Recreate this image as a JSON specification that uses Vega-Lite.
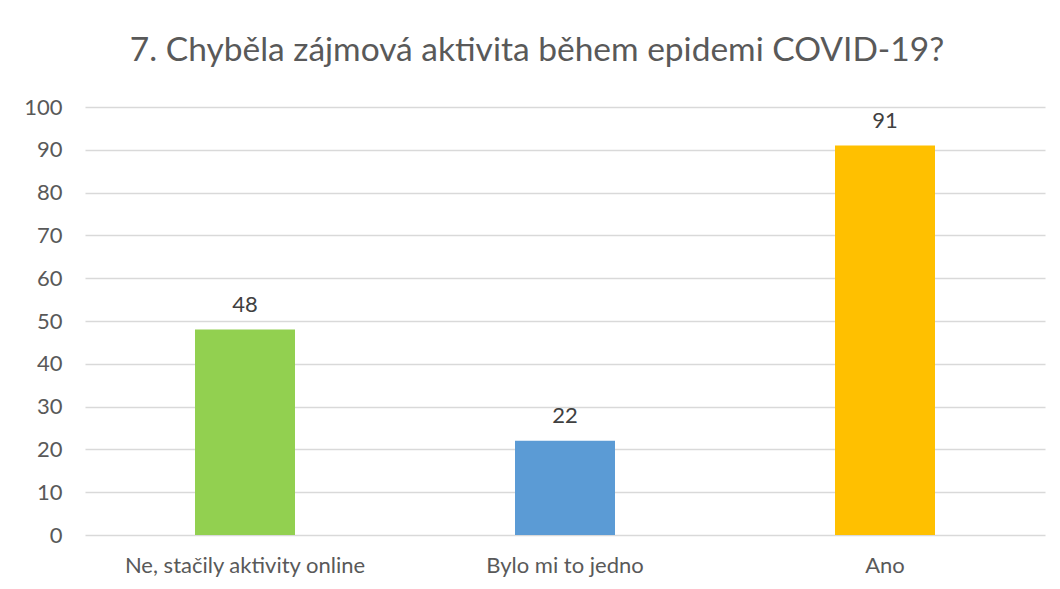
{
  "$schema": "https://vega.github.io/schema/vega-lite/v6.json",
  "autosize": "none",
  "width": 960,
  "height": 428,
  "padding": {"left": 85, "top": 107, "right": 15, "bottom": 54},
  "background": "white",
  "config": {
    "font": "Lato",
    "view": {"stroke": null}
  },
  "title": {
    "text": "7. Chyběla zájmová aktivita během epidemi COVID-19?",
    "fontSize": 33.5,
    "font": "Lato",
    "fontWeight": "normal",
    "color": "#595959",
    "anchor": "middle",
    "dx": -28,
    "offset": 28
  },
  "data": {
    "values": [
      {"odpoved": "Ne, stačily aktivity online", "pocet": 48},
      {"odpoved": "Bylo mi to jedno", "pocet": 22},
      {"odpoved": "Ano", "pocet": 91}
    ]
  },
  "encoding": {
    "x": {
      "field": "odpoved",
      "type": "nominal",
      "sort": null,
      "scale": {"paddingInner": 0.6875, "paddingOuter": 0.34375},
      "axis": {
        "title": null,
        "labelAngle": 0,
        "labelFontSize": 22,
        "labelLimit": 0,
        "labelColor": "#595959",
        "labelPadding": 20,
        "ticks": false,
        "domain": false
      }
    },
    "y": {
      "field": "pocet",
      "type": "quantitative",
      "scale": {"domain": [0, 100], "nice": false},
      "axis": {
        "title": null,
        "values": [0, 10, 20, 30, 40, 50, 60, 70, 80, 90, 100],
        "labelFontSize": 22,
        "labelColor": "#595959",
        "labelPadding": 23,
        "ticks": false,
        "domain": false,
        "grid": true,
        "gridColor": "#d9d9d9",
        "gridWidth": 1.5
      }
    }
  },
  "layer": [
    {
      "mark": {"type": "bar"},
      "encoding": {
        "color": {
          "field": "odpoved",
          "type": "nominal",
          "scale": {
            "domain": ["Ne, stačily aktivity online", "Bylo mi to jedno", "Ano"],
            "range": ["#92D050", "#5B9BD5", "#FFC000"]
          },
          "legend": null
        }
      }
    },
    {
      "mark": {"type": "text", "baseline": "bottom", "dy": -13, "fontSize": 22, "color": "#404040"},
      "encoding": {"text": {"field": "pocet", "type": "quantitative"}}
    }
  ]
}
